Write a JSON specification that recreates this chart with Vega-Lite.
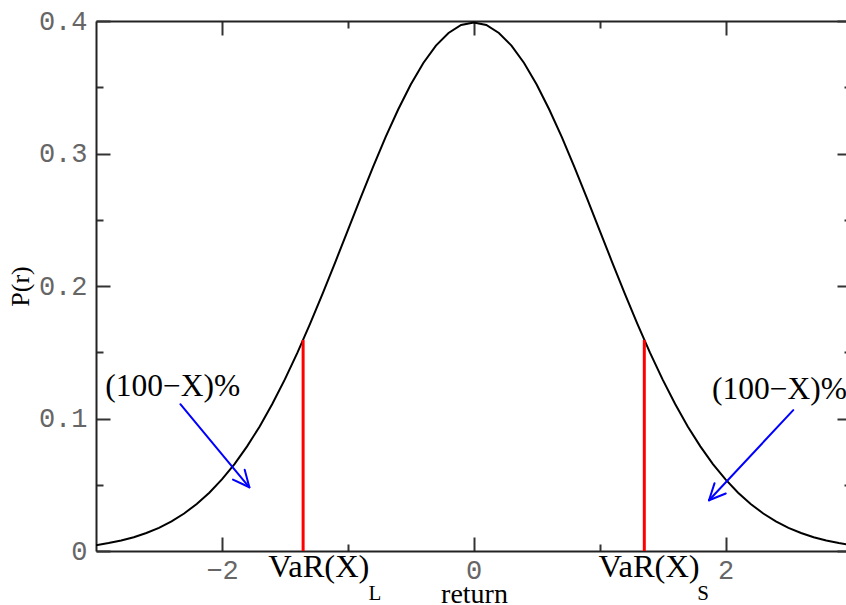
{
  "$schema": "https://vega.github.io/schema/vega-lite/v6.json",
  "width": 750,
  "height": 530,
  "autosize": {"type": "none"},
  "padding": {"left": 96, "top": 21, "right": 0, "bottom": 54},
  "background": "white",
  "config": {
    "view": {"stroke": null},
    "axis": {
      "domainColor": "#222",
      "domainWidth": 2,
      "tickColor": "#333",
      "tickWidth": 2,
      "grid": false,
      "labelFont": "Liberation Mono",
      "labelFontSize": 27,
      "labelColor": "#666",
      "titleFont": "Liberation Serif",
      "titleColor": "#000",
      "titleFontWeight": "normal"
    }
  },
  "datasets": {
    "curve": [
      {"x": -3.0, "p": 0.0044}, {"x": -2.9, "p": 0.0060}, {"x": -2.8, "p": 0.0079}, {"x": -2.7, "p": 0.0104},
      {"x": -2.6, "p": 0.0136}, {"x": -2.5, "p": 0.0175}, {"x": -2.4, "p": 0.0224}, {"x": -2.3, "p": 0.0283},
      {"x": -2.2, "p": 0.0355}, {"x": -2.1, "p": 0.0440}, {"x": -2.0, "p": 0.0540}, {"x": -1.9, "p": 0.0656},
      {"x": -1.8, "p": 0.0790}, {"x": -1.7, "p": 0.0940}, {"x": -1.6, "p": 0.1109}, {"x": -1.5, "p": 0.1295},
      {"x": -1.4, "p": 0.1497}, {"x": -1.3, "p": 0.1714}, {"x": -1.2, "p": 0.1942}, {"x": -1.1, "p": 0.2179},
      {"x": -1.0, "p": 0.2420}, {"x": -0.9, "p": 0.2661}, {"x": -0.8, "p": 0.2897}, {"x": -0.7, "p": 0.3123},
      {"x": -0.6, "p": 0.3332}, {"x": -0.5, "p": 0.3521}, {"x": -0.4, "p": 0.3683}, {"x": -0.3, "p": 0.3814},
      {"x": -0.2, "p": 0.3910}, {"x": -0.1, "p": 0.3970}, {"x": 0.0, "p": 0.3989}, {"x": 0.1, "p": 0.3970},
      {"x": 0.2, "p": 0.3910}, {"x": 0.3, "p": 0.3814}, {"x": 0.4, "p": 0.3683}, {"x": 0.5, "p": 0.3521},
      {"x": 0.6, "p": 0.3332}, {"x": 0.7, "p": 0.3123}, {"x": 0.8, "p": 0.2897}, {"x": 0.9, "p": 0.2661},
      {"x": 1.0, "p": 0.2420}, {"x": 1.1, "p": 0.2179}, {"x": 1.2, "p": 0.1942}, {"x": 1.3, "p": 0.1714},
      {"x": 1.4, "p": 0.1497}, {"x": 1.5, "p": 0.1295}, {"x": 1.6, "p": 0.1109}, {"x": 1.7, "p": 0.0940},
      {"x": 1.8, "p": 0.0790}, {"x": 1.9, "p": 0.0656}, {"x": 2.0, "p": 0.0540}, {"x": 2.1, "p": 0.0440},
      {"x": 2.2, "p": 0.0355}, {"x": 2.3, "p": 0.0283}, {"x": 2.4, "p": 0.0224}, {"x": 2.5, "p": 0.0175},
      {"x": 2.6, "p": 0.0136}, {"x": 2.7, "p": 0.0104}, {"x": 2.8, "p": 0.0079}, {"x": 2.9, "p": 0.0060},
      {"x": 3.0, "p": 0.0044}
    ],
    "var": [
      {"x": -1.355, "p": 0.1593},
      {"x": 1.355, "p": 0.1593}
    ],
    "arrows": [
      {"x": -2.330, "y": 0.1108, "x2": -1.782, "y2": 0.0481},
      {"x": -1.782, "y": 0.0481, "x2": -1.819, "y2": 0.0613},
      {"x": -1.782, "y": 0.0481, "x2": -1.912, "y2": 0.0539},
      {"x": 2.538, "y": 0.1063, "x2": 1.869, "y2": 0.0383},
      {"x": 1.869, "y": 0.0383, "x2": 2.002, "y2": 0.0434},
      {"x": 1.869, "y": 0.0383, "x2": 1.913, "y2": 0.0512}
    ],
    "labels": [
      {"x": -2.926, "y": 0.1168, "t": "(100−X)%"},
      {"x": 1.893, "y": 0.1146, "t": "(100−X)%"}
    ],
    "vars": [
      {"x": -1.631, "y": -0.0199, "t": "VaR(X)"},
      {"x": 0.992, "y": -0.0199, "t": "VaR(X)"}
    ],
    "subs": [
      {"x": -0.835, "y": -0.0372, "t": "L"},
      {"x": 1.775, "y": -0.0372, "t": "S"}
    ]
  },
  "layer": [
    {
      "data": {"name": "curve"},
      "mark": {"type": "line", "color": "#000", "strokeWidth": 2, "clip": true},
      "encoding": {
        "x": {
          "field": "x", "type": "quantitative",
          "scale": {"domain": [-3, 2.957], "nice": false, "zero": false},
          "axis": {
            "orient": "bottom",
            "values": [-2, -1, 0, 1, 2],
            "labelExpr": "datum.value % 2 === 0 ? datum.label : ''",
            "tickSize": {"condition": {"test": "datum.value % 2 === 0", "value": -14}, "value": -7},
            "labelPadding": 20,
            "labelFlush": false,
            "labelOverlap": false,
            "title": "return",
            "titleFontSize": 28,
            "titleX": 378,
            "titleY": 51,
            "titleAlign": "center",
            "titleBaseline": "alphabetic"
          }
        },
        "y": {
          "field": "p", "type": "quantitative",
          "scale": {"domain": [0, 0.4], "nice": false, "zero": false},
          "axis": {
            "orient": "left",
            "values": [0, 0.05, 0.1, 0.15, 0.2, 0.25, 0.3, 0.35, 0.4],
            "labelExpr": "abs(datum.value*10 - round(datum.value*10)) < 0.001 ? (datum.value === 0 ? '0' : format(datum.value, '.1f')) : ''",
            "tickSize": {"condition": {"test": "abs(datum.value*10 - round(datum.value*10)) < 0.001", "value": -14}, "value": -7},
            "labelPadding": 23,
            "labelFlush": false,
            "labelOverlap": false,
            "title": "P(r)",
            "titleFontSize": 26,
            "titleAngle": -90,
            "titleX": -76,
            "titleY": 265,
            "titleAlign": "center",
            "titleBaseline": "middle"
          }
        }
      }
    },
    {
      "data": {"name": "var"},
      "mark": {"type": "rule", "color": "#ff0000", "strokeWidth": 3},
      "encoding": {
        "x": {
          "field": "x", "type": "quantitative",
          "scale": {"domain": [-3, 2.957], "nice": false, "zero": false},
          "axis": {
            "orient": "top",
            "values": [-2, -1, 0, 1, 2],
            "labels": false,
            "tickSize": {"condition": {"test": "datum.value % 2 === 0", "value": -14}, "value": -7},
            "title": null
          }
        },
        "y": {
          "field": "p", "type": "quantitative",
          "scale": {"domain": [0, 0.4], "nice": false, "zero": false},
          "axis": {
            "orient": "right",
            "offset": 5,
            "domain": false,
            "labels": false,
            "values": [0, 0.05, 0.1, 0.15, 0.2, 0.25, 0.3, 0.35, 0.4],
            "tickSize": {"condition": {"test": "abs(datum.value*10 - round(datum.value*10)) < 0.001", "value": -14}, "value": -7},
            "title": null
          }
        },
        "y2": {"datum": 0}
      }
    },
    {
      "data": {"name": "arrows"},
      "mark": {"type": "rule", "color": "#0000ff", "strokeWidth": 2, "strokeCap": "round"},
      "encoding": {
        "x": {"field": "x", "type": "quantitative", "scale": {"domain": [-3, 2.957], "nice": false, "zero": false}, "axis": null},
        "y": {"field": "y", "type": "quantitative", "scale": {"domain": [0, 0.4], "nice": false, "zero": false}, "axis": null},
        "x2": {"field": "x2"},
        "y2": {"field": "y2"}
      }
    },
    {
      "data": {"name": "labels"},
      "mark": {"type": "text", "font": "Liberation Serif", "fontSize": 31.5, "align": "left", "baseline": "alphabetic", "color": "#000"},
      "encoding": {
        "x": {"field": "x", "type": "quantitative", "scale": {"domain": [-3, 2.957], "nice": false, "zero": false}, "axis": null},
        "y": {"field": "y", "type": "quantitative", "scale": {"domain": [0, 0.4], "nice": false, "zero": false}, "axis": null},
        "text": {"field": "t"}
      }
    },
    {
      "data": {"name": "vars"},
      "mark": {"type": "text", "font": "Liberation Serif", "fontSize": 32.5, "align": "left", "baseline": "alphabetic", "color": "#000"},
      "encoding": {
        "x": {"field": "x", "type": "quantitative", "scale": {"domain": [-3, 2.957], "nice": false, "zero": false}, "axis": null},
        "y": {"field": "y", "type": "quantitative", "scale": {"domain": [0, 0.4], "nice": false, "zero": false}, "axis": null},
        "text": {"field": "t"}
      }
    },
    {
      "data": {"name": "subs"},
      "mark": {"type": "text", "font": "Liberation Serif", "fontSize": 21, "align": "left", "baseline": "alphabetic", "color": "#000"},
      "encoding": {
        "x": {"field": "x", "type": "quantitative", "scale": {"domain": [-3, 2.957], "nice": false, "zero": false}, "axis": null},
        "y": {"field": "y", "type": "quantitative", "scale": {"domain": [0, 0.4], "nice": false, "zero": false}, "axis": null},
        "text": {"field": "t"}
      }
    }
  ],
  "resolve": {
    "scale": {"x": "independent", "y": "independent"},
    "axis": {"x": "independent", "y": "independent"}
  }
}
